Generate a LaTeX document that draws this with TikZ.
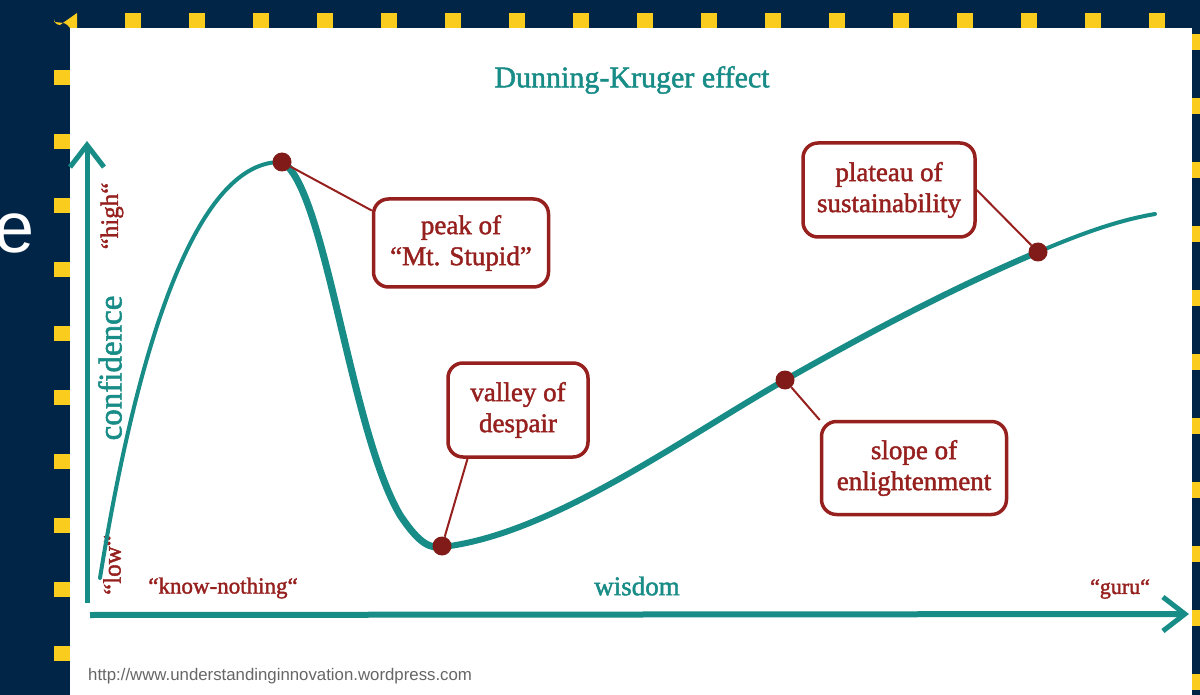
\documentclass[tikz,border=0pt]{standalone}
\usepackage{fontspec}
\setmainfont{Liberation Serif}
\newfontfamily\heavy{Liberation Serif}[FakeBold=1.6]
\newfontfamily\urlfont{Liberation Sans}
\usetikzlibrary{
    arrows.meta,
    calc
}
\definecolor{navy}{RGB}{0,37,71}
\definecolor{gold}{RGB}{250,204,30}
\definecolor{dkteal}{RGB}{24,140,134}
\definecolor{maroon}{RGB}{150,32,30}
\newcommand{\fsz}[1]{\heavy\fontsize{#1}{1.15\dimexpr#1pt\relax}\selectfont}
\tikzset{
  axis/.style={
    dkteal,
    line width=5pt,
    -{Straight Barb[length=22pt,width=34pt,line width=5pt]}
  },
  callout/.style={
    draw=maroon,
    line width=3.5pt,
    rounded corners=15pt,
    fill=white,
    text=maroon,
    align=center,
    inner sep=0pt,
    font=\heavy\fontsize{27}{31}\selectfont
  },
  dot/.style={
    circle,
    fill=maroon!85!black,
    minimum size=19pt,
    inner sep=0pt
  },
  lead/.style={
    maroon,
    line width=2pt
  },
  redlabel/.style={
    text=maroon,
    inner sep=0pt
  },
  teallabel/.style={
    text=dkteal,
    inner sep=0pt
  }
}

\begin{document}
\begin{tikzpicture}[x=1pt,y=-1pt]
    \useasboundingbox (0,0) rectangle (1200,695);
    %-------------------------
    % slide frame
    %-------------------------
    \fill[navy] (0,0) rectangle (1200,695);
    \fill[white] (70,28) rectangle (1192,695);
    \fill[gold] (54,22) -- (54,19) arc[start angle=180,end angle=90,radius=6] -- (77,13) -- (77,28) -- (70,28) .. controls (66,23) .. (54,22);
    \foreach \i in {0,...,16}
        \fill[gold] (125+64*\i,13) rectangle ++(16,15);
    \foreach \i in {0,...,9}
        \fill[gold] (54,70+64*\i) rectangle ++(16,15);
    \foreach \i in {0,...,10}
        \fill[gold] (1192,34+64*\i) rectangle ++(8,16);
    \node[white,inner sep=0pt,anchor=base east,font=\urlfont\fontsize{72}{80}\selectfont] (cut) at (35,253) {e};

    %-------------------------
    % axes
    %-------------------------
    \coordinate (vbot) at (87,603);
    \coordinate (vtop) at (87,141);
    \coordinate (hleft) at (90,615);
    \coordinate (hright) at (1189,614);
    \draw[axis] (vbot) -- (vtop);
    \draw[axis,line width=6pt] (hleft) -- (hright);

    \node[teallabel,rotate=90,font=\fsz{33}] (conf) at (110,368) {confidence};
    \node[redlabel,rotate=90,font=\fsz{25}] (high) at (112,216) {“high“};
    \node[redlabel,rotate=90,font=\fsz{25}] (low) at (112,565) {“low“};
    \node[redlabel,font=\fsz{23}] (know) at (223,588) {“know-nothing“};
    \node[teallabel,font=\fsz{27}] (wisdom) at (637,586) {wisdom};
    \node[redlabel,font=\fsz{22}] (guru) at (1120,589) {“guru“};
    \node[teallabel,font=\fsz{30}] (title) at (632,80) {Dunning-Kruger effect};

    %-------------------------
    % the curve
    %-------------------------
    \draw[dkteal,line width=4pt,line cap=round]
        (100,578) .. controls (140,330) and (200,160) .. (282,162);
    \draw[dkteal,line width=7pt,line cap=round]
        (282,162) .. controls (325,185) and (350,430) .. (400,515)
        .. controls (420,545) and (430,548) .. (442,547);
    \draw[dkteal,line width=6pt,line cap=round]
        (442,547) .. controls (550,535) and (680,440) .. (785,380)
        .. controls (880,326) and (960,285) .. (1038,252);
    \draw[dkteal,line width=4pt,line cap=round]
        (1038,252) .. controls (1085,232) and (1120,220) .. (1155,214);

    \node[dot] (peak) at (282,162) {};
    \node[dot] (valley) at (442,546) {};
    \node[dot] (slope) at (785,380) {};
    \node[dot] (plateau) at (1038,252) {};

    %-------------------------
    % callouts
    %-------------------------
    \node[callout,minimum width=175pt,minimum height=88pt] (stupid) at (461,243) {peak of\\“Mt. Stupid”};
    \node[callout,minimum width=140pt,minimum height=94pt] (despair) at (518,410) {valley of\\despair};
    \node[callout,minimum width=185pt,minimum height=93pt] (enlight) at (914,468) {slope of\\enlightenment};
    \node[callout,minimum width=172pt,minimum height=94pt] (sustain) at (889,190) {plateau of\\sustainability};

    \draw[lead] (peak) -- (stupid.160);
    \draw[lead] (despair.224) -- (valley);
    \draw[lead] (slope) -- (enlight.153);
    \draw[lead] (sustain.east) -- (plateau);

    \node[anchor=west,inner sep=0pt,text=black!60,font=\urlfont\fontsize{16.8}{19}\selectfont] (url) at (88,676) {http://www.understandinginnovation.wordpress.com};
\end{tikzpicture}
\end{document}
